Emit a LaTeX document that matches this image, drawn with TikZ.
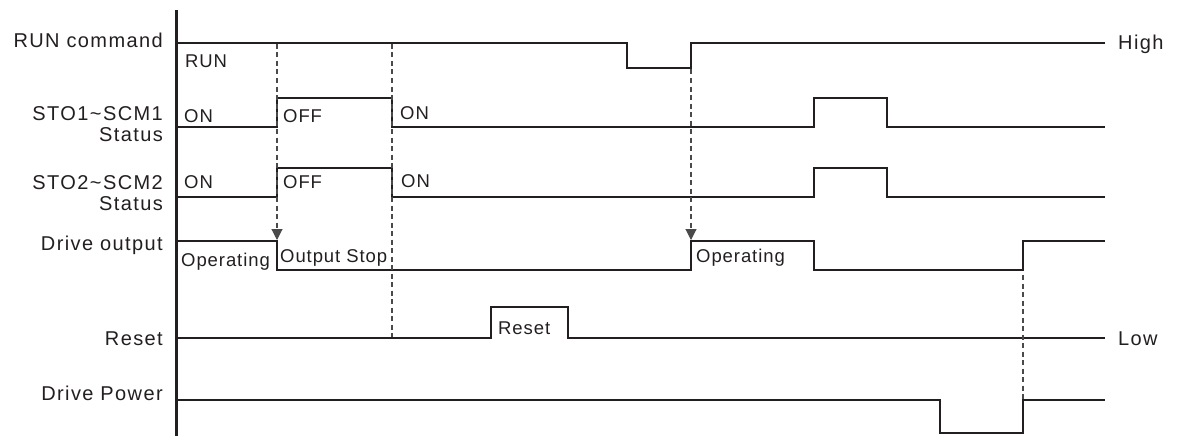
\documentclass[tikz,border=0pt]{standalone}
\usepackage{fontspec}
\setmainfont{Liberation Sans}
\usetikzlibrary{arrows.meta}

\definecolor{ink}{HTML}{231F20}
\definecolor{guide}{HTML}{4A4A4A}

\tikzset{
  signal/.style={draw=ink, line width=2pt, line join=miter},
  guideline/.style={draw=guide, line width=1.1pt, dash pattern=on 5pt off 3.5pt},
  marker/.style={-{Triangle[length=11pt,width=11pt]}},
  signame/.style={font=\fontsize{20}{21}\selectfont\addfontfeature{LetterSpace=7},
    text=ink, align=right, inner sep=0pt},
  state/.style={font=\fontsize{18.5}{20}\selectfont\addfontfeature{LetterSpace=5},
    text=ink, anchor=base west, inner sep=0pt},
}

\begin{document}
\begin{tikzpicture}[x=1pt, y=-1pt]
  \useasboundingbox (0,0) rectangle (1178,436);

  % signal names
  \node[signame, anchor=base east] (run)   at (163,47.5) {RUN command};
  \node[signame, anchor=east]      (sto1)  at (163,124)  {STO1\textasciitilde SCM1\\Status};
  \node[signame, anchor=east]      (sto2)  at (163,193.5){STO2\textasciitilde SCM2\\Status};
  \node[signame, anchor=base east] (drive) at (163,250.5){Drive output};
  \node[signame, anchor=base east] (reset) at (163,345)  {Reset};
  \node[signame, anchor=base east] (power) at (163,400)  {Drive Power};
  \node[signame, anchor=base west] (high)  at (1118,50)  {High};
  \node[signame, anchor=base west] (low)   at (1118,345) {Low};

  % time axis
  \draw[ink, line width=3pt] (176,10) -- (176,436);

  % waveforms
  \draw[signal] (176,43) -- (627,43) -- (627,68.5) -- (691,68.5) -- (691,43) -- (1105,43);
  \draw[signal] (176,127) -- (277,127) -- (277,98) -- (392,98) -- (392,127)
                -- (814,127) -- (814,98) -- (887,98) -- (887,127) -- (1105,127);
  \draw[signal] (176,197) -- (277,197) -- (277,168) -- (392,168) -- (392,197)
                -- (814,197) -- (814,168) -- (887,168) -- (887,197) -- (1105,197);
  \draw[signal] (176,241) -- (277,241) -- (277,270) -- (691,270) -- (691,241)
                -- (814,241) -- (814,270) -- (1023,270) -- (1023,241) -- (1105,241);
  \draw[signal] (176,338) -- (491,338) -- (491,307) -- (568,307) -- (568,338) -- (1105,338);
  \draw[signal] (176,400) -- (940,400) -- (940,433) -- (1023,433) -- (1023,400) -- (1105,400);

  % state labels
  \node[state] (runlbl)  at (185,68)    {RUN};
  \node[state] (on1a)    at (184,122.5) {ON};
  \node[state] (off1)    at (283,122.5) {OFF};
  \node[state] (on1b)    at (400,119.5) {ON};
  \node[state] (on2a)    at (184,188)   {ON};
  \node[state] (off2)    at (283,188)   {OFF};
  \node[state] (on2b)    at (401,187)   {ON};
  \node[state] (opA)     at (181,266)   {Operating};
  \node[state] (stop)    at (280,262.5) {Output Stop};
  \node[state] (opB)     at (696,262.5) {Operating};
  \node[state] (rstlbl)  at (498,334.5) {Reset};

  % event guides
  \coordinate (offtop)   at (277,44);
  \coordinate (offend)   at (277,240);
  \coordinate (ontop)    at (392,44);
  \coordinate (onend)    at (392,337);
  \coordinate (runtop)   at (691,69.5);
  \coordinate (runend)   at (691,240);
  \coordinate (pwrtop)   at (1023,275);
  \coordinate (pwrend)   at (1023,399);

  \draw[guideline, marker] (offtop) -- (offend);
  \draw[guideline] (ontop) -- (onend);
  \draw[guideline, marker] (runtop) -- (runend);
  \draw[guideline] (pwrtop) -- (pwrend);
\end{tikzpicture}
\end{document}
